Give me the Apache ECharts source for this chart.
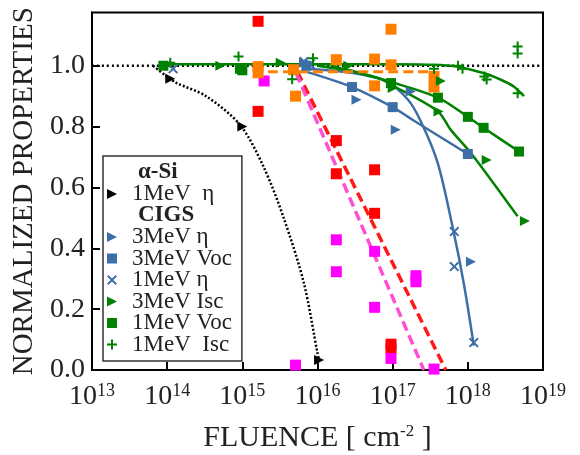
<!DOCTYPE html>
<html>
<head>
<meta charset="utf-8">
<script src="https://cdn.jsdelivr.net/npm/echarts@6/dist/echarts.min.js"></script>
<style>
  html, body { margin: 0; padding: 0; background: #fff; }
  #chart { width: 580px; height: 455px; }
</style>
</head>
<body>
<div id="chart"></div>
<script>
// x = fluence [cm^-2], y = normalized property
const xTickExps = [13, 14, 15, 16, 17, 18, 19];
const yTicks = [0, 0.2, 0.4, 0.6, 0.8, 1.0];

// reference line at 1.0
const refLine = [[1e13, 1.0], [1e19, 1.0]];

// a-Si 1MeV eta
const aSiEta = [[1.1e14, 0.957], [1.0e15, 0.80], [1.05e16, 0.033]];
const aSiEtaFit = [[6.5e13, 1.0], [9.3e13, 0.97], [1.32e14, 0.944], [3.3e14, 0.90], [9.3e14, 0.806],
  [1.9e15, 0.67], [3.55e15, 0.50], [6.6e15, 0.285], [1.0e16, 0.055], [1.05e16, 0.033]];

// CIGS
const cigs3Eta = [[6.6e15, 1.01], [3.3e16, 0.888], [1.1e17, 0.79], [1.74e17, 0.915], [1.1e18, 0.356]];
const cigs3Voc = [[7.1e15, 1.0], [2.88e16, 0.93], [1.0e17, 0.864], [1.0e18, 0.71]];
const cigs3VocFit = [[7.2e15, 0.98], [2.88e16, 0.93], [1.0e17, 0.864], [1.9e17, 0.82], [1.0e18, 0.71]];
const cigs1Eta = [[1.2e14, 0.99], [6.6e15, 1.014], [8.0e15, 1.005], [6.6e17, 0.455], [6.6e17, 0.34], [1.2e18, 0.09]];
const cigs1EtaFit = [[7.1e15, 0.99], [2.75e16, 0.977], [8.0e16, 0.95], [1.58e17, 0.89], [2.34e17, 0.82],
  [3.98e17, 0.68], [6.46e17, 0.455], [8.9e17, 0.28], [1.2e18, 0.08]];
const cigs3Isc = [[5.1e14, 1.0], [3.24e15, 1.01], [2.57e16, 1.0], [1.0e17, 0.927], [4.37e17, 0.95],
  [4.07e17, 0.85], [1.78e18, 0.69], [5.75e18, 0.49]];
const cigs3IscFit = [[1.5e16, 1.0], [6.3e16, 0.96], [1.0e17, 0.935], [4.0e17, 0.85], [5.9e17, 0.79],
  [1.15e18, 0.707], [4.6e18, 0.505]];
const cigs1Voc = [[8.9e13, 1.0], [9.3e14, 0.99], [1.0e15, 0.985], [9.5e16, 0.943], [4.0e17, 0.895],
  [1.0e18, 0.832], [1.62e18, 0.796], [4.8e18, 0.718]];
const cigs1VocFit = [[1.0e16, 1.0], [3.0e16, 0.98], [1.0e17, 0.945], [4.0e17, 0.895], [1.0e18, 0.832],
  [1.62e18, 0.796], [4.8e18, 0.718]];
const cigs1Isc = [[1.1e14, 1.01], [8.9e14, 1.03], [4.6e15, 0.956], [8.7e15, 1.025], [3.55e17, 0.99],
  [7.4e17, 1.0], [8.5e17, 0.99], [1.66e18, 0.965], [1.78e18, 0.955], [4.6e18, 1.063], [4.6e18, 1.04], [4.6e18, 0.91]];
const cigs1IscFit = [[9e13, 1.005], [1e15, 1.005], [1e17, 1.005], [5.9e17, 1.0], [1.62e18, 0.976],
  [2.75e18, 0.954], [4.07e18, 0.932], [5.6e18, 0.90]];

// other unlabelled data
const redPts = [[1.62e15, 1.146], [1.62e15, 0.85], [1.78e16, 0.754], [1.78e16, 0.645], [5.75e16, 0.658],
  [5.75e16, 0.515], [9.5e16, 0.085], [9.5e16, 0.07]];
const redFit = [[5.4e15, 0.98], [5.1e17, 0]];
const magentaPts = [[1.95e15, 0.95], [1.78e16, 0.428], [1.78e16, 0.323], [5.75e16, 0.39], [5.75e16, 0.206],
  [2.04e17, 0.31], [2.04e17, 0.29], [9.5e16, 0.038], [5.1e15, 0.016], [3.55e17, 0.003]];
const magentaFit = [[5.2e15, 0.975], [2.6e17, 0]];
const orangePts = [[1.62e15, 0.997], [1.62e15, 0.977], [5.1e15, 0.90], [4.8e15, 0.987], [1.78e16, 1.02],
  [9.5e16, 1.12], [5.75e16, 1.022], [9.5e16, 1.003], [5.75e16, 0.934], [3.55e17, 0.965], [3.55e17, 0.93]];
const orangeFit = [[2.2e15, 0.98], [3.55e17, 0.98]];

const FONT = "'Liberation Serif', 'Times New Roman', serif";
const BLUE = '#3d6fa6';
const GREEN = '#008200';
const PLUS = 'path://M4,0H6V4H10V6H6V10H4V6H0V4H4Z';
const CROSS = 'path://M1.4,0L5,3.6L8.6,0L10,1.4L6.4,5L10,8.6L8.6,10L5,6.4L1.4,10L0,8.6L3.6,5L0,1.4Z';
const TRI_R = 'path://M0,0L10,5L0,10Z';

const chart = echarts.init(document.getElementById('chart'));

function fitLine(name, data, color, type, width) {
  return {
    name: name, type: 'line', data: data, smooth: 0.3, showSymbol: false, symbol: 'none',
    lineStyle: { color: color, width: width || 2.5, type: type || 'solid' },
    z: 2, silent: true
  };
}
function markers(name, data, color, symbol, size) {
  return {
    name: name, type: 'scatter', data: data, symbol: symbol, symbolSize: size,
    itemStyle: { color: color, opacity: 1 }, z: 5
  };
}

const option = {
  animation: false,
  grid: {
    left: 92, right: 37, top: 12.5, bottom: 85, outerBoundsMode: 'none',
    show: true, borderColor: '#000', borderWidth: 2
  },
  xAxis: {
    type: 'log', logBase: 10, min: 1e13, max: 1e19,
    name: 'FLUENCE [ cm{s|-2} ]', nameLocation: 'middle', nameGap: 53,
    nameTextStyle: {
      fontFamily: FONT, fontSize: 30, color: '#222',
      rich: { s: { fontFamily: FONT, fontSize: 17, color: '#222', padding: [0, 0, 14, 0] } }
    },
    axisLine: { lineStyle: { color: '#000', width: 2 } },
    axisTick: { inside: true, length: 8, lineStyle: { color: '#000', width: 2 } },
    minorTick: { show: false },
    splitLine: { show: false },
    axisLabel: {
      margin: 12, color: '#222', fontFamily: FONT, fontSize: 28,
      formatter: function (v) {
        const e = Math.round(Math.log10(v));
        return xTickExps.indexOf(e) >= 0 ? '{b|10}{s|' + e + '}' : '';
      },
      rich: {
        b: { fontFamily: FONT, fontSize: 28, color: '#222' },
        s: { fontFamily: FONT, fontSize: 18, color: '#222', padding: [0, 0, 12, 0] }
      }
    }
  },
  yAxis: {
    type: 'value', min: 0, max: 1.175, interval: 0.2,
    name: 'NORMALIZED PROPERTIES', nameLocation: 'middle', nameGap: 52,
    nameTextStyle: { fontFamily: FONT, fontSize: 29, color: '#222' },
    axisLine: { lineStyle: { color: '#000', width: 2 } },
    axisTick: { inside: true, length: 8, lineStyle: { color: '#000', width: 2 } },
    splitLine: { show: false },
    axisLabel: {
      margin: 7, color: '#222', fontFamily: FONT, fontSize: 28, showMaxLabel: false,
      formatter: function (v) {
        return yTicks.some(t => Math.abs(t - v) < 1e-6) ? v.toFixed(1) : '';
      }
    }
  },
  legend: {
    orient: 'vertical', left: 103, top: 156, selectedMode: false,
    backgroundColor: '#fff', borderColor: '#333', borderWidth: 1.5,
    padding: [5, 10, 5, 4], itemGap: -1.5, itemWidth: 10, itemHeight: 10,
    textStyle: { fontFamily: FONT, fontSize: 23, color: '#222', padding: [0, 0, 0, 10] },
    data: [
      { name: 'α-Si', icon: 'none', textStyle: { fontWeight: 'bold', padding: [0, 0, 0, 16] } },
      '1MeV  η',
      { name: 'CIGS', icon: 'none', textStyle: { fontWeight: 'bold', padding: [0, 0, 0, 16] } },
      '3MeV η', '3MeV Voc', '1MeV η', '3MeV Isc', '1MeV Voc', '1MeV  Isc'
    ]
  },
  series: [
    fitLine('ref', refLine, '#000', [2, 3], 2.5),
    fitLine('aSiFit', aSiEtaFit, '#000', [2, 2], 2.5),
    fitLine('c3VocFit', cigs3VocFit, BLUE),
    fitLine('c1EtaFit', cigs1EtaFit, BLUE),
    fitLine('c3IscFit', cigs3IscFit, GREEN),
    fitLine('c1VocFit', cigs1VocFit, GREEN),
    fitLine('c1IscFit', cigs1IscFit, GREEN),
    fitLine('redFit', redFit, '#ff1a1a', [10, 5], 3.5),
    fitLine('magFit', magentaFit, '#ff4fd2', [10, 5], 3.5),
    fitLine('orFit', orangeFit, '#ff8000', [10, 5], 3),
    markers('red', redPts, '#ff0000', 'rect', 11),
    markers('magenta', magentaPts, '#ff00ff', 'rect', 11),
    markers('orange', orangePts, '#ff8000', 'rect', 11),
    { name: 'α-Si', type: 'scatter', data: [] },
    markers('1MeV  η', aSiEta, '#000', TRI_R, 10),
    { name: 'CIGS', type: 'scatter', data: [] },
    markers('3MeV η', cigs3Eta, BLUE, TRI_R, 10),
    markers('3MeV Voc', cigs3Voc, BLUE, 'rect', 10),
    markers('1MeV η', cigs1Eta, BLUE, CROSS, 10),
    markers('3MeV Isc', cigs3Isc, GREEN, TRI_R, 10),
    markers('1MeV Voc', cigs1Voc, GREEN, 'rect', 10),
    markers('1MeV  Isc', cigs1Isc, GREEN, PLUS, 10)
  ]
};

chart.setOption(option);
</script>
</body>
</html>
